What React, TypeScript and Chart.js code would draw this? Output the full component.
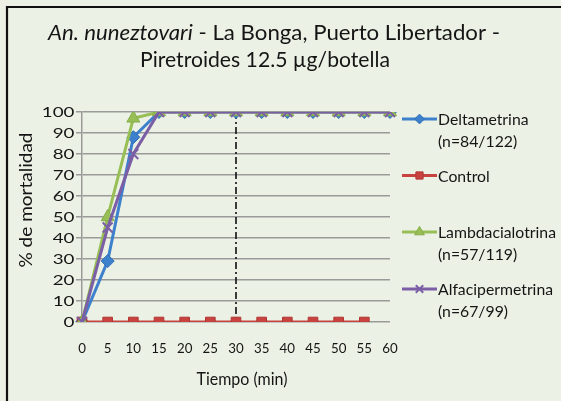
import { useEffect, useRef } from 'react';
import { Chart, registerables } from 'chart.js';
import { drawPoint } from 'chart.js/helpers';

Chart.register(...registerables);

// ---- data ----
const timeLabels = ['0', '5', '10', '15', '20', '25', '30', '35', '40', '45', '50', '55', '60'];
const deltametrina = [0, 29, 88, 100, 100, 100, 100, 100, 100, 100, 100, 100, 100];
const control = [0, 0, 0, 0, 0, 0, 0, 0, 0, 0, 0, 0];
const lambdacialotrina = [0, 50, 97, 100, 100, 100, 100, 100, 100, 100, 100, 100, 100];
const alfacipermetrina = [0, 45, 80, 100, 100, 100, 100, 100, 100, 100, 100, 100, 100];
const seriesNames = ['Deltametrina', 'Control', 'Lambdacialotrina', 'Alfacipermetrina'];
const seriesN = ['(n=84/122)', '', '(n=57/119)', '(n=67/99)'];
const yTickValues = [0, 10, 20, 30, 40, 50, 60, 70, 80, 90, 100];
const cutoffTime = '30';
const titleItalic = 'An. nuneztovari';
const titleRest = ' - La Bonga, Puerto Libertador -';
const titleLine2 = 'Piretroides 12.5 µg/botella';
const yTitle = '% de mortalidad';
const xTitle = 'Tiempo (min)';

const FONT = 'Lato';
const TEXT = '#151515';

type Part = { text: string; italic?: boolean };

function drawParts(
  ctx: CanvasRenderingContext2D,
  parts: Part[],
  x: number,
  y: number,
  size: number,
  opts: { target?: number; sx?: number; align?: 'left' | 'center' | 'right'; rotate?: number }
) {
  const fonts = parts.map((p) => `${p.italic ? 'italic ' : ''}${size}px ${FONT}`);
  const widths = parts.map((p, i) => {
    ctx.font = fonts[i];
    return ctx.measureText(p.text).width;
  });
  const total = widths.reduce((a, b) => a + b, 0);
  const sx = opts.target ? opts.target / total : opts.sx ?? 1;
  ctx.save();
  ctx.translate(x, y);
  if (opts.rotate) ctx.rotate(opts.rotate);
  ctx.scale(sx, 1);
  ctx.fillStyle = TEXT;
  ctx.textAlign = 'left';
  ctx.textBaseline = 'alphabetic';
  let cx = opts.align === 'center' ? -total / 2 : opts.align === 'right' ? -total : 0;
  parts.forEach((p, i) => {
    ctx.font = fonts[i];
    ctx.fillText(p.text, cx, 0);
    cx += widths[i];
  });
  ctx.restore();
}

const decorPlugin = {
  id: 'decor',
  beforeDraw(chart: any) {
    const ctx = chart.ctx as CanvasRenderingContext2D;
    ctx.save();
    ctx.fillStyle = '#ecf1e5';
    ctx.fillRect(0, 0, chart.width, chart.height);
    ctx.strokeStyle = '#111';
    ctx.lineWidth = 2.2;
    ctx.beginPath();
    ctx.moveTo(chart.width + 2, 7);
    ctx.lineTo(7, 7);
    ctx.lineTo(7, chart.height + 2);
    ctx.stroke();
    ctx.restore();
  },
  beforeDatasetsDraw(chart: any) {
    const ctx = chart.ctx as CanvasRenderingContext2D;
    const xs = chart.scales.x;
    const x = xs.getPixelForValue(timeLabels.indexOf(cutoffTime));
    const { top, bottom } = chart.chartArea;
    ctx.save();
    ctx.strokeStyle = '#111';
    ctx.lineWidth = 1.6;
    ctx.setLineDash([7, 3, 2, 3]);
    ctx.beginPath();
    ctx.moveTo(x, top);
    ctx.lineTo(x, bottom);
    ctx.stroke();
    ctx.restore();
  },
  afterDraw(chart: any) {
    const ctx = chart.ctx as CanvasRenderingContext2D;
    const xs = chart.scales.x;
    const ys = chart.scales.y;
    // title
    drawParts(ctx, [{ text: titleItalic, italic: true }, { text: titleRest }], 48, 40, 21, { target: 452 });
    drawParts(ctx, [{ text: titleLine2 }], 140, 66.5, 21, { target: 250 });
    // axis titles
    drawParts(ctx, [{ text: yTitle }], 32, 200, 17, { target: 135, align: 'center', rotate: -Math.PI / 2 });
    drawParts(ctx, [{ text: xTitle }], 242, 385, 17, { target: 91, align: 'center' });
    // y tick labels
    yTickValues.forEach((v) => {
      drawParts(ctx, [{ text: String(v) }], 74.5, ys.getPixelForValue(v) + 5, 14, { sx: 1.34, align: 'right' });
    });
    // x tick labels
    timeLabels.forEach((l, i) => {
      drawParts(ctx, [{ text: l }], xs.getPixelForValue(i), 353, 14, { sx: 0.95, align: 'center' });
    });
    // legend
    ctx.font = `16px ${FONT}`;
    const legSx = 118 / ctx.measureText('Lambdacialotrina').width;
    const legBase = [125, 181.5, 238, 295];
    chart.data.datasets.forEach((ds: any, i: number) => {
      const ly = legBase[i] - 6;
      ctx.save();
      ctx.strokeStyle = ds.borderColor;
      ctx.lineWidth = ds.borderWidth;
      ctx.beginPath();
      ctx.moveTo(402, ly);
      ctx.lineTo(437, ly);
      ctx.stroke();
      ctx.fillStyle = ds.pointBackgroundColor;
      ctx.strokeStyle = ds.pointBorderColor;
      ctx.lineWidth = ds.pointBorderWidth;
      drawPoint(ctx, { pointStyle: ds.pointStyle, radius: ds.pointRadius * 0.75, rotation: 0, borderWidth: ds.pointBorderWidth }, 419.5, ly);
      ctx.restore();
      drawParts(ctx, [{ text: seriesNames[i] }], 438, legBase[i], 16, { sx: legSx });
      if (seriesN[i]) drawParts(ctx, [{ text: seriesN[i] }], 438, legBase[i] + 22, 16, { sx: legSx });
    });
  },
};

export default function App() {
  const ref = useRef<HTMLCanvasElement | null>(null);
  useEffect(() => {
    if (!ref.current) return;
    const mk = (data: number[], color: string, border: string, style: string, radius: number, bw: number, order: number, label: string) => ({
      label,
      data,
      borderColor: color,
      backgroundColor: color,
      borderWidth: 3,
      pointStyle: style,
      pointRadius: radius,
      pointBackgroundColor: color,
      pointBorderColor: border,
      pointBorderWidth: bw,
      tension: 0,
      order,
    });
    const chart = new Chart(ref.current, {
      type: 'line',
      data: {
        labels: timeLabels,
        datasets: [
          mk(deltametrina, '#3d80cc', '#2f6fb8', 'rectRot', 6.5, 1, 4, seriesNames[0]),
          mk(control, '#c8423f', '#b03532', 'rect', 6.8, 1, 3, seriesNames[1]),
          mk(lambdacialotrina, '#97bf55', '#86ad48', 'triangle', 7.5, 1, 2, seriesNames[2]),
          mk(alfacipermetrina, '#7b5fa6', '#7b5fa6', 'crossRot', 7, 2, 1, seriesNames[3]),
        ] as any,
      },
      options: {
        responsive: false,
        animation: false,
        devicePixelRatio: 1,
        layout: { padding: { top: 112, right: 171, left: 0, bottom: 0 } },
        plugins: { legend: { display: false }, title: { display: false }, tooltip: { enabled: false } },
        scales: {
          x: {
            type: 'category',
            offset: false,
            grid: { display: false },
            border: { display: false },
            ticks: { display: false },
            afterFit: (s: any) => {
              s.height = 79;
            },
          },
          y: {
            min: 0,
            max: 100,
            ticks: { display: false, stepSize: 10 },
            grid: { color: '#9a9a9a', lineWidth: 1.5, drawTicks: true, tickLength: 6 },
            border: { display: true, color: '#9a9a9a', width: 1.5 },
            afterFit: (s: any) => {
              s.width = 82;
            },
          },
        },
      },
      plugins: [decorPlugin],
    } as any);
    return () => chart.destroy();
  }, []);
  return (
    <div style={{ position: 'absolute', left: 0, top: 0, width: 561, height: 401 }}>
      <canvas ref={ref} width={561} height={401} style={{ display: 'block', width: 561, height: 401 }} />
    </div>
  );
}
